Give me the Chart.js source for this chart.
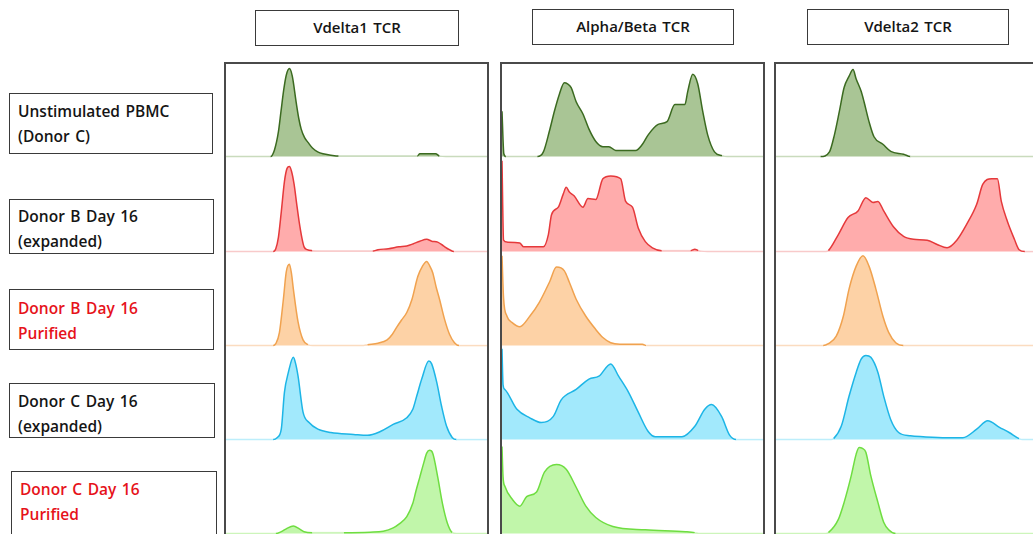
<!doctype html>
<html lang="en">
  <head>
    <meta charset="utf-8">
    <title>TCR histograms</title>
    <style>
      * {
        margin: 0;
        padding: 0;
        font-family: "Open Sans", sans-serif;
      }
      body {
        width: 1033px;
        height: 534px;
        overflow: hidden;
        position: relative;
        background: #fff;
      }
      .box {
        position: absolute;
        border: 1.5px solid #3a3a3a;
        box-sizing: border-box;
        font-weight: 600;
        font-size: 15.5px;
        color: #151515;
        word-spacing: 1.5px;
      }
      .head {
        text-align: center;
        line-height: 33px;
        font-size: 15px;
      }
      .rowlab div {
        position: absolute;
        left: 8px;
        line-height: 24px;
        white-space: nowrap;
      }
      .red { color: #e6121a; }
      .frame {
        position: absolute;
        border: 2px solid #4a4a4a;
        box-sizing: border-box;
        z-index: 2;
      }
      canvas {
        position: absolute;
        z-index: 1;
      }
    </style>
  </head>
  <body>
    <script type="text/javascript" src="https://cdn.jsdelivr.net/npm/chart.js"></script>
    <script>
    // setup: [fluorescence (0-100 across panel), count (% of row height)]
    const columnTitles = ['Vdelta1 TCR', 'Alpha/Beta TCR', 'Vdelta2 TCR'];
    const rowLabels = [
      ['Unstimulated PBMC', '(Donor C)'],
      ['Donor B Day 16', '(expanded)'],
      ['Donor B Day 16', 'Purified'],
      ['Donor C Day 16', '(expanded)'],
      ['Donor C Day 16', 'Purified']
    ];
    const redRows = [false, false, true, false, true];

    // Vdelta1 TCR column
    const vd1_unstim = [[0,0],[17,0],[18.5,7],[20,26],[21,48],[22,70],[23,86],[24.2,93],[25.3,85],[26.8,57],[27.8,40],[28.7,29],[30,20],[31.3,15],[33,9],[35,5],[37,3],[40,1.5],[43,0.5],[73,0.5],[74,3],[80,3],[81.5,0.5],[84,0],[100,0]];
    const vd1_donorB = [[0,0],[18,0],[19,3],[20,15],[21.1,42],[22.3,74],[23.3,88],[24.2,90],[25,85],[26,71],[27,50],[27.9,32],[29,14],[29.8,5],[31,2],[33,1],[40,0.5],[56,0.5],[58,2],[62,3],[66,5],[69,6],[71.3,8],[74,11],[76.6,13],[78.5,11],[80.8,10],[83,6],[85.3,2],[87,0],[100,0]];
    const vd1_donorBpur = [[0,0],[18,0],[19,2],[20.4,14],[21.9,49],[23,78],[24.2,86],[25,76],[25.7,60],[27.5,25],[29.4,6],[31.3,1],[33,0],[52,0],[54,1],[58,2.5],[61.5,6],[63.5,12],[65.3,20],[67,27],[69,35],[71,49],[73.2,73],[75,84],[76.6,89],[77.8,84],[78.9,77],[80.2,62],[81.5,49],[83.4,28],[85.3,12],[87.2,3],[89,0],[100,0]];
    const vd1_donorC = [[0,0],[18,0],[19.5,2],[21.1,11],[22.3,50],[23.8,71],[25.7,87],[26.6,80],[27.5,67],[29.4,29],[31.7,18],[35.1,11],[40,7.5],[48.7,5.5],[54,4.5],[58.9,8.5],[63.8,16],[69,23],[71.3,32],[72.8,46],[74.7,64],[77.4,83],[78.5,80],[80.4,61],[82.3,35],[84.2,14],[86.4,2],[88,0],[100,0]];
    const vd1_donorCpur = [[0,0],[19,0],[21.1,2],[23,5],[25.7,8],[28,5],[29.8,2],[33,1],[45,1],[55,1.5],[60,2.5],[63.8,6],[66,10],[69,18],[71.3,32],[72.5,45],[74,60],[75.5,75],[76.6,85],[77.7,88],[78.9,85],[80.8,60],[82.6,32],[84.5,11],[86.4,1],[88,0],[100,0]];

    // Alpha/Beta TCR column
    const ab_unstim = [[0,48],[0.7,3],[1.5,0],[13.5,0],[15.8,5],[18.1,27],[20,48],[21.9,66],[23.8,78],[25,77],[26.4,73],[28.3,58],[30.9,45],[33.2,29],[35.8,16],[38.5,10.5],[40.8,10.5],[43.4,6.5],[51,6.5],[53.6,13],[55.8,23],[59.6,34],[63,37],[66,55],[69.8,55],[70.9,69],[72.8,87],[74.7,77],[76.6,48],[78.5,23],[81.1,5],[84,1],[86,0],[100,0]];
    const ab_donorB = [[0,96],[0.6,12],[1.9,10],[6.8,9],[8.3,5],[15.8,5],[17.7,18],[18.9,39],[21.5,47],[23.4,61],[24.5,68],[25.7,63],[27.5,59],[30.9,47],[32.8,56],[35.8,55],[38.5,77],[41.5,80],[45.3,77],[47.2,53],[49.8,47],[52,25],[54.7,10.5],[57.4,4],[61,1],[72,1],[73.6,2.5],[75,1],[80,0],[100,0]];
    const ab_donorBpur = [[0,95],[0.6,50],[1.9,31],[4,24],[6.8,20],[10.6,31],[14.3,46],[18.1,67],[20.8,83],[23.8,79],[25.7,67],[28.3,49],[32,31],[35.8,17],[38.5,8.5],[41.5,3],[45,1.5],[53.6,1.5],[55,0],[100,0]];
    const ab_donorC = [[0,96],[0.4,58],[1.1,53],[5.7,32],[10.6,23],[15,18],[19.6,24.5],[22.6,42],[28.3,53],[33.2,64],[37,67],[41.5,80],[44.5,67],[48.3,50],[52,29],[55.8,8.5],[58.5,3],[68.7,3],[73.6,14],[77.4,32],[80,37],[83.8,24.5],[86.8,5],[89.4,0],[100,0]];
    const ab_donorCpur = [[0,92],[0.4,60],[1.1,50],[4,36],[6.8,29],[9.4,39],[13.2,44],[16.2,65],[20.8,73],[24.5,68],[28.3,49],[32,29],[35.8,17],[42.3,7.5],[54.7,4],[70,2],[73.6,1],[75,0],[100,0]];

    // Vdelta2 TCR column
    const vd2_unstim = [[0,0],[17,0],[20.4,5],[22.3,23],[24.2,48],[26,73],[27.9,85],[29.4,92],[30.6,82],[32.5,69],[33.6,58],[35.5,37],[37.4,21],[40.8,13],[43.8,5.5],[48.7,2.5],[51.3,0],[100,0]];
    const vd2_donorB = [[0,0],[19,0],[20,1],[23.8,18],[27.5,36],[31.3,43],[34.3,57],[37,52],[38.9,53],[41.1,43],[44.9,26],[48.7,16],[52.5,13],[57.7,12],[61.5,7.5],[65.3,4],[69,12],[72.8,29],[76.6,50],[78.9,71],[82.3,77],[84.5,77],[86,53],[88.3,32],[91,13],[92.8,2],[95,0],[100,0]];
    const vd2_donorBpur = [[0,0],[18,0],[20,2],[23,10],[25.7,31],[27.9,60],[30.6,84],[33.2,95],[35.5,84],[38.1,60],[40.8,31],[43,14],[45.7,3],[48.7,0],[100,0]];
    const vd2_donorC = [[0,0],[21,0],[22,1],[24.9,14],[27.9,46],[30.6,71],[32.5,85],[34.3,89],[36.2,87],[38.9,71],[41.1,46],[43.8,21],[46.8,7.5],[51.3,4],[56.2,3],[65,2],[71.3,2],[76.6,11],[80.8,20],[85.3,13],[89,7.5],[92.8,1],[94,0],[100,0]];
    const vd2_donorCpur = [[0,0],[19,0],[20,1],[23.8,15],[26,33],[28.7,61],[30.6,84],[31.7,91],[33,90],[34.3,86],[36.2,61],[38.9,33],[41.1,12],[43,4],[45.7,0],[100,0]];

    const panels = [
      [vd1_unstim, vd1_donorB, vd1_donorBpur, vd1_donorC, vd1_donorCpur],
      [ab_unstim, ab_donorB, ab_donorBpur, ab_donorC, ab_donorCpur],
      [vd2_unstim, vd2_donorB, vd2_donorBpur, vd2_donorC, vd2_donorCpur]
    ];

    const strokeColors = ['#3b6a20', '#e5393b', '#f0a24f', '#1db5e6', '#6fdd41'];
    const fillColors = ['#a9c595', '#ffacac', '#fdd2a6', '#a2e9fc', '#c1f6aa'];
    const baseColors = ['#c9dbbd', '#f8caca', '#fbdcc0', '#bdeefb', '#cdf5bb'];

    // layout
    const frameLeft = [224, 500, 774];
    const frameWidth = 265;
    const baselines = [157, 252, 346, 440, 534];
    const headBoxes = [[255, 10, 204], [532, 9, 202], [807, 9, 202]];
    const labelBoxes = [[9, 93, 204, 61], [9, 199, 205, 55], [9, 289, 205, 61], [9, 383, 206, 55], [11, 471, 206, 80]];
    const labelFirstLine = [110, 215, 307, 400, 488];

    // header boxes
    columnTitles.forEach((t, i) => {
      const d = document.createElement('div');
      d.className = 'box head';
      const [l, tp, w] = headBoxes[i];
      Object.assign(d.style, { left: l + 'px', top: tp + 'px', width: w + 'px', height: '36px' });
      d.textContent = t;
      document.body.appendChild(d);
    });

    // row label boxes
    rowLabels.forEach((lines, i) => {
      const d = document.createElement('div');
      d.className = 'box rowlab' + (redRows[i] ? ' red' : '');
      const [l, tp, w, h] = labelBoxes[i];
      Object.assign(d.style, { left: l + 'px', top: tp + 'px', width: w + 'px', height: h + 'px' });
      lines.forEach((txt, k) => {
        const s = document.createElement('div');
        s.textContent = txt;
        s.style.top = (labelFirstLine[i] - tp - 12 + k * 25) + 'px';
        d.appendChild(s);
      });
      document.body.appendChild(d);
    });

    // column frames
    frameLeft.forEach(l => {
      const f = document.createElement('div');
      f.className = 'frame';
      Object.assign(f.style, { left: l + 'px', top: '62px', width: frameWidth + 'px', height: '490px' });
      document.body.appendChild(f);
    });

    // histograms
    const H = 96;
    panels.forEach((col, c) => {
      col.forEach((pts, r) => {
        const cv = document.createElement('canvas');
        cv.width = frameWidth - 3;
        cv.height = H;
        cv.style.left = (frameLeft[c] + 2) + 'px';
        cv.style.top = (baselines[r] - H + 1.4) + 'px';
        document.body.appendChild(cv);
        new Chart(cv, {
          type: 'line',
          data: {
            datasets: [{
              data: pts.map(([x, y]) => ({ x, y })),
              borderColor: strokeColors[r],
              backgroundColor: fillColors[r],
              borderWidth: 1.5,
              fill: 'origin',
              pointRadius: 0,
              cubicInterpolationMode: 'monotone',
              segment: {
                borderColor: ctx => (ctx.p0.parsed.y < 1.2 && ctx.p1.parsed.y < 1.2) ? baseColors[r] : strokeColors[r]
              }
            }]
          },
          options: {
            responsive: false,
            animation: false,
            devicePixelRatio: 1,
            layout: { padding: 0 },
            plugins: { legend: { display: false }, tooltip: { enabled: false } },
            scales: {
              x: { type: 'linear', min: 0, max: 100, display: false },
              y: { min: -1.5, max: 100, display: false }
            }
          }
        });
      });
    });
    </script>
  </body>
</html>
